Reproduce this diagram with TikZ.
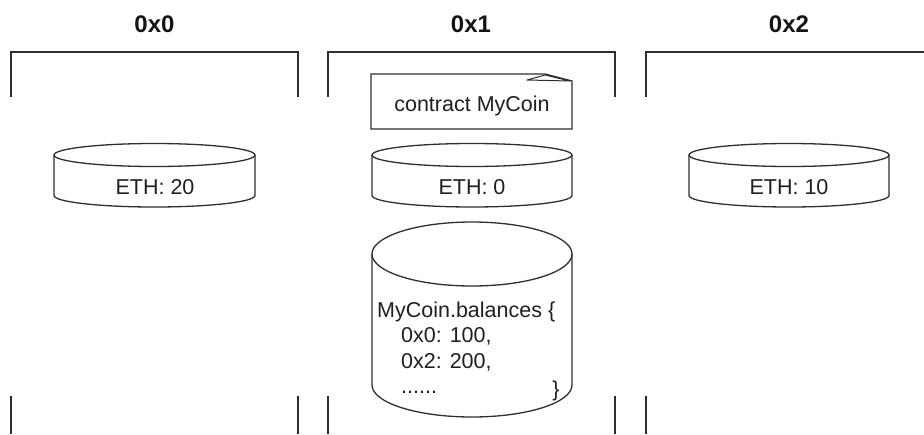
\documentclass[tikz,border=0pt]{standalone}
\usepackage{fontspec}
\setmainfont{Liberation Sans}
\begin{document}
\begin{tikzpicture}[x=1pt,y=-1pt,
  ln/.style={draw=black!82,line width=1.3pt},
  txt/.style={font=\fontsize{21.5}{25}\selectfont,text=black!88,inner sep=0pt},
  hdr/.style={font=\fontsize{24}{28}\selectfont\bfseries,text=black!92,inner sep=0pt}]
\useasboundingbox (0,0) rectangle (924,434);
% header labels
\node[hdr,anchor=base] (h0) at (154.5,32) {0x0};
\node[hdr,anchor=base] (h1) at (471,32) {0x1};
\node[hdr,anchor=base] (h2) at (789,32) {0x2};
% brackets
\draw[ln] (11,97) -- (11,52) -- (298,52) -- (298,97);
\draw[ln] (328,97) -- (328,52) -- (615,52) -- (615,97);
\draw[ln] (646,97) -- (646,52) -- (924,52);
\draw[ln] (11,396) -- (11,434);
\draw[ln] (298,396) -- (298,434);
\draw[ln] (328,396) -- (328,434);
\draw[ln] (615,396) -- (615,434);
\draw[ln] (646,396) -- (646,434);
% contract note
\draw[ln,line join=miter] (545,74) -- (371,74) -- (371,129) -- (572,129) -- (572,81) -- cycle;
\draw[ln,line width=1pt,line join=round] (527,80) -- (545,75) -- (570,81) -- cycle;
\node[txt,anchor=base] (note) at (472,111) {contract MyCoin};
% ETH cylinders
\draw[ln] (54,155) -- (54,195.5) arc[start angle=180,end angle=360,x radius=100.5pt,y radius=11.5pt] -- (255,155);
\draw[ln] (154.5,155) ellipse[x radius=100.5pt,y radius=11.5pt];
\node[txt,anchor=base] (e0) at (155,194) {ETH: 20};
\draw[ln] (372,155) -- (372,195.5) arc[start angle=180,end angle=360,x radius=100pt,y radius=11.5pt] -- (572,155);
\draw[ln] (472,155) ellipse[x radius=100pt,y radius=11.5pt];
\node[txt,anchor=base] (e1) at (472,194) {ETH: 0};
\draw[ln] (689,155) -- (689,195.5) arc[start angle=180,end angle=360,x radius=100pt,y radius=11.5pt] -- (889,155);
\draw[ln] (789,155) ellipse[x radius=100pt,y radius=11.5pt];
\node[txt,anchor=base] (e2) at (789,194) {ETH: 10};
% storage cylinder
\draw[ln] (372,254) -- (372,385) arc[start angle=180,end angle=360,x radius=100pt,y radius=32pt] -- (572,254);
\draw[ln] (472,254) ellipse[x radius=100pt,y radius=32pt];
\node[txt,anchor=base west] (b1) at (377,317) {MyCoin.balances \{};
\node[txt,anchor=base west] (b2) at (401,342) {0x0: 100,};
\node[txt,anchor=base west] (b3) at (401,368) {0x2: 200,};
\node[txt,anchor=base west] (b4) at (401,393) {......};
\node[txt,anchor=center] (b5) at (556,391) {\}};
\end{tikzpicture}
\end{document}
